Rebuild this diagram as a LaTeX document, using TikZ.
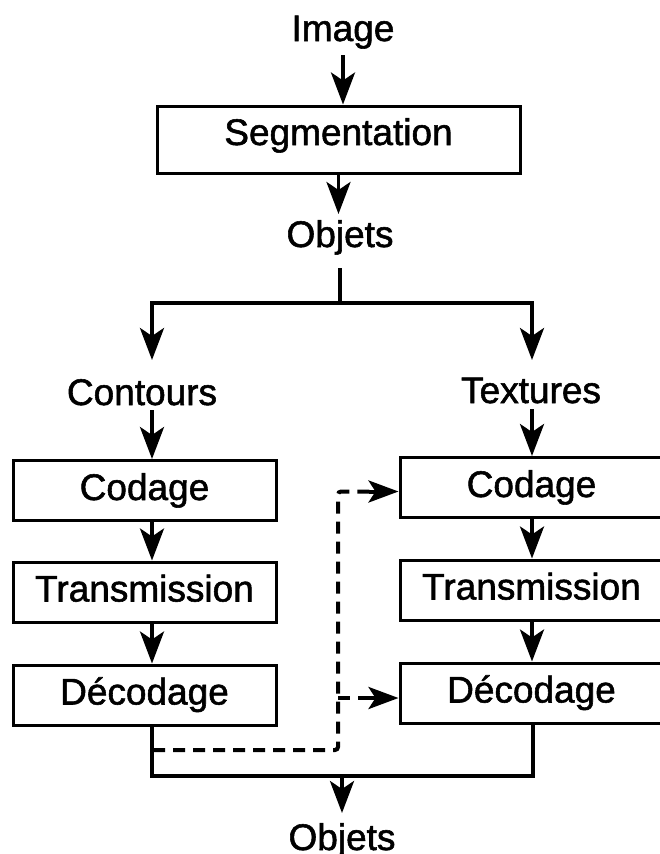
\documentclass[tikz,border=0pt]{standalone}
\usepackage{fontspec}
\setmainfont{Liberation Sans}[BoldFont={Liberation Sans},BoldFeatures={FakeBold=1.5}]
\usetikzlibrary{arrows.meta,calc}
\tikzset{
  lbl/.style={anchor=base, inner sep=0pt, outer ysep=6pt, text height=27pt, text depth=8pt,
              font=\fontsize{37pt}{44pt}\selectfont\bfseries},
  box/.style={draw, line width=3pt, minimum width=263pt, minimum height=60pt, inner sep=0pt,
              text height=27pt, text depth=8pt, font=\fontsize{37pt}{44pt}\selectfont\bfseries},
  line/.style={line width=3.8pt},
  arr/.style={line width=3.8pt, -{Stealth[length=32pt,width=24pt,inset=8pt]}},
  dline/.style={line width=4pt, dash pattern=on 12pt off 8pt, rounded corners=3pt},
  dhead/.style={line width=4pt, -{Stealth[length=30pt,width=22pt,inset=7pt]}}
}
\begin{document}
\begin{tikzpicture}[x=1pt,y=-1pt]
\useasboundingbox (0,0) rectangle (660,854);
% nodes
\node[lbl] (image) at (343,41) {Image};
\node[box, minimum width=363pt, minimum height=67pt, text depth=16pt] (seg) at (338.5,139.5) {Segmentation};
\node[lbl] (obj1) at (340,247) {Objets};
\node[lbl] (cont) at (142,405) {Contours};
\node[lbl] (text) at (531,403) {Textures};
\node[box] (lcod) at (144.5,490.5) {Codage};
\node[box] (ltra) at (144.5,592) {Transmission};
\node[box] (ldec) at (144.5,695) {Décodage};
\node[box] (rcod) at (531.5,487.5) {Codage};
\node[box] (rtra) at (531.5,590) {Transmission};
\node[box] (rdec) at (531.5,693) {Décodage};
\node[lbl] (obj2) at (342,850) {Objets};
% coordinates
\coordinate (lsplit) at (152,303);
\coordinate (rsplit) at (532,303);
\coordinate (lmerge) at (152,776);
\coordinate (rmerge) at (533,776);
\coordinate (merge) at (342,776);
\coordinate (dstart) at (153,750);
\coordinate (dcorner) at (338,750);
% top part
\draw[arr] (image.south) -- (image.south |- seg.north);
\draw[arr] (seg.south) -- (seg.south |- obj1.north);
\draw[line] ($(obj1.south)+(0,7)$) -- (obj1.south |- lsplit);
\draw[line] ($(lsplit)+(-1.9,0)$) -- ($(rsplit)+(1.9,0)$);
\draw[arr] ($(lsplit)+(0,-1.9)$) -- ($(lsplit |- cont.north)+(0,-12)$);
\draw[arr] ($(rsplit)+(0,-1.9)$) -- ($(rsplit |- text.north)+(0,-10)$);
% columns
\draw[arr] ($(lsplit |- cont.south)+(0,-9)$) -- (lsplit |- lcod.north);
\draw[arr] (lsplit |- lcod.south) -- (lsplit |- ltra.north);
\draw[arr] (lsplit |- ltra.south) -- (lsplit |- ldec.north);
\draw[arr] ($(rsplit |- text.south)+(0,-8)$) -- (rsplit |- rcod.north);
\draw[arr] (rsplit |- rcod.south) -- (rsplit |- rtra.north);
\draw[arr] (rsplit |- rtra.south) -- (rsplit |- rdec.north);
% merge
\draw[line, line join=miter] (lsplit |- ldec.south) -- (lmerge) -- (rmerge) -- (rmerge |- rdec.south);
\draw[arr] (merge) -- ($(obj2.north)+(0,-4)$);
% dashed
\draw[dline] (dstart) -- (dcorner) |- ($(rcod.west)+(-26,4)$);
\draw[dhead] ($(rcod.west)+(-30,4)$) -- ($(rcod.west)+(0,4)$);
\draw[dline] ($(dcorner |- rdec.west)+(0,5)$) -- ($(rdec.west)+(-26,5)$);
\draw[dhead] ($(rdec.west)+(-30,5)$) -- ($(rdec.west)+(0,5)$);
\end{tikzpicture}
\end{document}
